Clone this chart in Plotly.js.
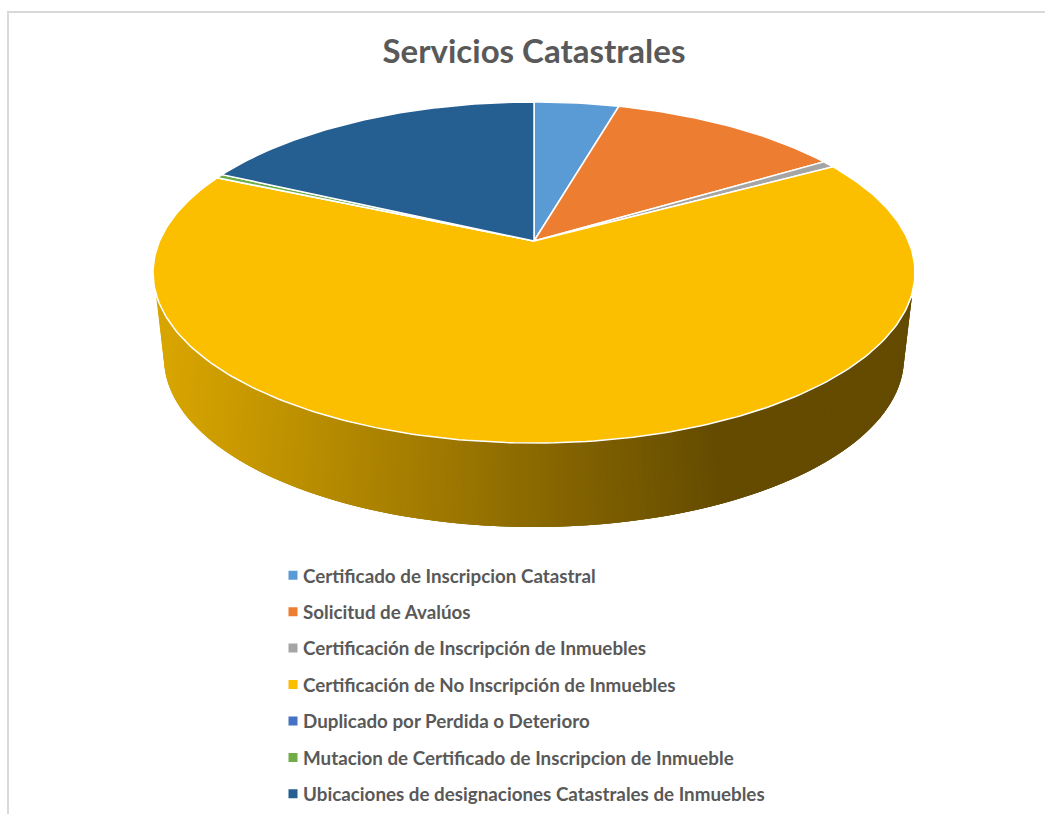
<!DOCTYPE html>
<html><head><meta charset="utf-8">
<script src="https://cdn.plot.ly/plotly-3.0.1.min.js"></script>
<style>html,body{margin:0;padding:0;background:#fff}#c{width:1045px;height:814px}</style>
</head><body><div id="c"></div>
<script>
const categories = [
  "Certificado de Inscripcion Catastral",
  "Solicitud de Avalúos",
  "Certificación de Inscripción de Inmuebles",
  "Certificación de No Inscripción de Inmuebles",
  "Duplicado por Perdida o Deterioro",
  "Mutacion de Certificado de Inscripcion de Inmueble",
  "Ubicaciones de designaciones Catastrales de Inmuebles"
];
const shares = [4.3, 11.86, 0.67, 64.94, 0.014, 0.39, 17.83];
const colors = ["#5B9BD5","#ED7D31","#A5A5A5","#FCBF00","#4472C4","#70AD47","#255E91"];
const titleText = "Servicios Catastrales";

// projection of the tilted disc onto the data plane
const cx=534, cy=241, A=164.7, B=374.4, p=0.1848;
function rim(deg){
  const t=deg*Math.PI/180, v=-Math.cos(t), d=1-p*v;
  return [cx+B*Math.sin(t)/d, cy+A*v/d];
}
const traces=[];
// side wall: strips with a horizontal gradient, each overlapping the next
const ecy=272, erx=382, ery=170, bcy=358, brx=370, bry=169;
function mix(x){
  const f=Math.min(1,Math.max(0,(x-160)/(720-160)));
  const a=[217,166,0], b=[100,75,0];
  return 'rgb('+a.map((c,i)=>Math.round(c+(b[i]-c)*f)).join(',')+')';
}
const topStart=171.5, topEnd=8.5, botStart=178, botEnd=2, steps=200;
function wallTop(u){const f=(topStart+(topEnd-topStart)*u)*Math.PI/180;return [cx+erx*Math.cos(f),ecy+ery*Math.sin(f)];}
function wallBot(u){const f=(botStart+(botEnd-botStart)*u)*Math.PI/180;return [cx+brx*Math.cos(f),bcy+bry*Math.sin(f)];}
for(let i=0;i<steps;i++){
  const u0=i/steps, u1=Math.min(1,(i+3)/steps), um=(i+0.5)/steps;
  const t0=wallTop(u0), b0=wallBot(u0), x=[t0[0]], y=[t0[1]];
  for(let k=1;k<=3;k++){const t=wallTop(u0+(u1-u0)*k/3);x.push(t[0]);y.push(t[1]);}
  for(let k=3;k>=1;k--){const b=wallBot(u0+(u1-u0)*k/3);x.push(b[0]);y.push(b[1]);}
  x.push(b0[0]);y.push(b0[1]);
  const col=mix((wallTop(um)[0]+wallBot(um)[0])/2);
  traces.push({type:'scatter',mode:'lines',x:x,y:y,fill:'toself',fillcolor:col,
    line:{color:col,width:0},hoverinfo:'skip',showlegend:false});
}
// slices on the top face
const total=shares.reduce((a,b)=>a+b,0);
let start=0;
shares.forEach((s,i)=>{
  const sweep=s/total*360;
  const x=[cx], y=[cy];
  const n=Math.max(2,Math.ceil(sweep));
  for(let k=0;k<=n;k++){
    const r=rim(start+sweep*k/n); x.push(r[0]); y.push(r[1]);
  }
  x.push(cx); y.push(cy);
  traces.push({type:'scatter',mode:'lines',x:x,y:y,fill:'toself',fillcolor:colors[i],
    line:{color:'#ffffff',width:1.5},name:categories[i],hoverinfo:'name',showlegend:false});
  start+=sweep;
});
// legend entries
categories.forEach((c,i)=>{
  traces.push({type:'scatter',mode:'markers',x:[null],y:[null],name:c,legendgroup:'g'+i,
    marker:{symbol:'square',size:9,color:colors[i]},showlegend:true});
});
const layout={
  width:1045,height:814,margin:{l:0,r:0,t:0,b:0,autoexpand:false},
  paper_bgcolor:'#fff',plot_bgcolor:'#fff',
  xaxis:{range:[0,1045],visible:false,fixedrange:true},
  yaxis:{range:[814,0],visible:false,fixedrange:true},
  title:{text:titleText,x:534/1045,xanchor:'center',y:1-51/814,yanchor:'middle',
    font:{family:'Lato, Carlito, sans-serif',size:33,color:'#595959',weight:700}},
  legend:{x:263/1045,xanchor:'left',y:1-556.5/814,yanchor:'top',orientation:'v',
    bgcolor:'rgba(0,0,0,0)',tracegroupgap:9,traceorder:'grouped',
    font:{family:'Lato, Carlito, sans-serif',size:18.8,color:'#595959',weight:700}},
  shapes:[
    {type:'line',xref:'x',yref:'y',x0:7,x1:1045,y0:12,y1:12,line:{color:'#D9D9D9',width:2}},
    {type:'line',xref:'x',yref:'y',x0:8,x1:8,y0:12,y1:814,line:{color:'#D9D9D9',width:2}}
  ]
};
Plotly.newPlot('c',traces,layout,{displayModeBar:false,staticPlot:true}).then(()=>{
  document.querySelectorAll('.legendsymbols').forEach(g=>g.setAttribute('transform','translate(10,0)'));
});
</script></body></html>
